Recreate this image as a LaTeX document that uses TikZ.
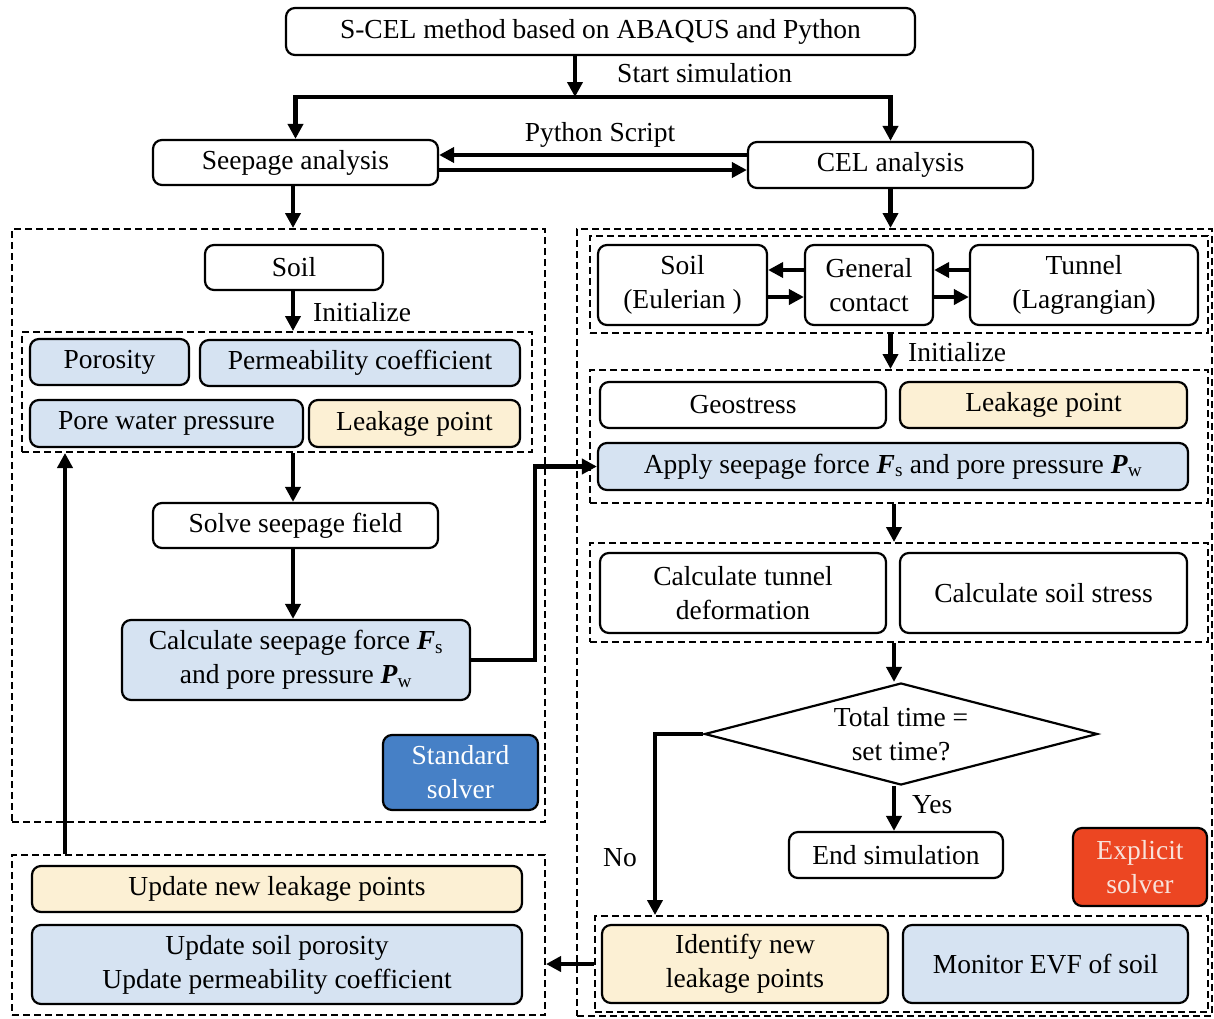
\documentclass[tikz,border=0pt]{standalone}
\usepackage{fontspec}
\setmainfont{Liberation Serif}
\usetikzlibrary{arrows.meta,shapes.geometric,calc}
\definecolor{lblue}{HTML}{D6E3F2}
\definecolor{lyel}{HTML}{FCF0D4}
\definecolor{stdblue}{HTML}{4680C6}
\definecolor{expred}{HTML}{EC4622}
\definecolor{exptext}{HTML}{F8E2DA}
\newcommand{\fs}{\fontsize{27.5}{34}\selectfont}
\newcommand{\bvar}[2]{\textbf{\textit{#1}}\textsubscript{#2}}
\begin{document}
\begin{tikzpicture}[x=1pt,y=-1pt,
  bx/.style={draw, rounded corners=9pt, line width=2.2pt, align=center, inner sep=0pt, font=\fs, fill=white},
  blu/.style={bx, fill=lblue},
  ylw/.style={bx, fill=lyel},
  dbox/.style={draw, dash pattern=on 7pt off 4pt, line width=2pt, inner sep=0pt},
  arr/.style={line width=4.5pt, -{Triangle[length=15pt,width=15pt]}},
  lbl/.style={font=\fs, inner sep=0pt}]
\useasboundingbox (0,0) rectangle (1214,1018);

% dashed frames
\node[dbox, minimum width=533pt, minimum height=593pt] (L) at (278.5,525.5) {};
\node[dbox, minimum width=510pt, minimum height=120pt] (LI) at (277,392) {};
\node[dbox, minimum width=533pt, minimum height=160pt] (BL) at (278.5,935) {};
\node[dbox, minimum width=635pt, minimum height=787pt] (R) at (894.5,622.5) {};
\node[dbox, minimum width=618pt, minimum height=97pt] (R1) at (899,284.5) {};
\node[dbox, minimum width=618pt, minimum height=133pt] (R2) at (899,436.5) {};
\node[dbox, minimum width=618pt, minimum height=99pt] (R3) at (899,592.5) {};
\node[dbox, minimum width=613pt, minimum height=96pt] (R4) at (901.5,964) {};

% top
\node[bx, minimum width=629pt, minimum height=47pt] (top) at (600.5,31.5) {S-CEL method based on ABAQUS and Python};
\node[bx, minimum width=285pt, minimum height=45pt] (seep) at (295.5,162.5) {Seepage analysis};
\node[bx, minimum width=285pt, minimum height=46pt] (cel) at (890.5,165) {CEL analysis};
\coordinate (split) at (575,97);
\node[lbl, anchor=west] (startlbl) at (617,73) {Start simulation};
\node[lbl] (pylbl) at (600,135) {Python Script};

% left column
\node[bx, minimum width=178pt, minimum height=45pt] (soil) at (294,267.5) {Soil};
\node[lbl, anchor=west] (initL) at (313,312) {Initialize};
\node[blu, minimum width=159pt, minimum height=46pt] (por) at (109.5,362) {Porosity};
\node[blu, minimum width=320pt, minimum height=46pt] (perm) at (360,363) {Permeability coefficient};
\node[blu, minimum width=273pt, minimum height=47pt] (pwp) at (166.5,423.5) {Pore water pressure};
\node[ylw, minimum width=211pt, minimum height=47pt] (leakL) at (414.5,423.5) {Leakage point};
\node[bx, minimum width=285pt, minimum height=45pt] (solve) at (295.5,525.5) {Solve seepage field};
\node[blu, minimum width=348pt, minimum height=80pt] (calc) at (296,660) {Calculate seepage force \bvar{F}{s}\\and pore pressure \bvar{P}{w}};
\node[bx, fill=stdblue, text=white, minimum width=155pt, minimum height=75pt] (std) at (460.5,772.5) {Standard\\solver};

% bottom left
\node[ylw, minimum width=490pt, minimum height=46pt] (updleak) at (277,889) {Update new leakage points};
\node[blu, minimum width=490pt, minimum height=79pt] (updsoil) at (277,964.5) {Update soil porosity\\Update permeability coefficient};

% right column
\node[bx, minimum width=169pt, minimum height=80pt] (soilE) at (682.5,285) {Soil\\(Eulerian )};
\node[bx, minimum width=128pt, minimum height=80pt] (gc) at (869,285) {General\\contact};
\node[bx, minimum width=228pt, minimum height=80pt] (tun) at (1084,285) {Tunnel\\(Lagrangian)};
\node[lbl, anchor=west] (initR) at (908,352) {Initialize};
\node[bx, minimum width=286pt, minimum height=46pt] (geo) at (743,405) {Geostress};
\node[ylw, minimum width=287pt, minimum height=46pt] (leakR) at (1043.5,405) {Leakage point};
\node[blu, minimum width=590pt, minimum height=47pt] (apply) at (893,466.5) {Apply seepage force \bvar{F}{s} and pore pressure \bvar{P}{w}};
\node[bx, minimum width=286pt, minimum height=80pt] (calct) at (743,593) {Calculate tunnel\\deformation};
\node[bx, minimum width=287pt, minimum height=80pt] (calcs) at (1043.5,593) {Calculate soil stress};
\node[draw, diamond, aspect=3.8, line width=2.2pt, inner sep=0pt, minimum width=393pt, minimum height=102pt, align=center, font=\fs] (dec) at (901,734) {Total time =\\set time?};
\node[lbl, anchor=west] (yes) at (912,805) {Yes};
\node[bx, minimum width=214pt, minimum height=46pt] (endsim) at (896,855) {End simulation};
\node[bx, fill=expred, text=exptext, minimum width=134pt, minimum height=78pt] (exp) at (1140,867) {Explicit\\solver};
\node[lbl] (no) at (620,858) {No};
\node[ylw, minimum width=286pt, minimum height=78pt] (ident) at (745,964) {Identify new\\leakage points};
\node[blu, minimum width=285pt, minimum height=78pt] (mon) at (1045.5,964) {Monitor EVF of soil};

% connectors
\draw[arr] (top.south -| split) -- (split);
\draw[arr] (split) -| (seep.north);
\draw[arr] (split) -| (cel.north);
\draw[arr] ([yshift=10pt]cel.west) -- ([yshift=10pt]cel.west -| seep.east);
\draw[arr] ([yshift=-7.5pt]seep.east) -- ([yshift=-7.5pt]seep.east -| cel.west);
\coordinate (midL) at (293,0);
\draw[arr] (midL |- seep.south) -- (midL |- L.north);
\draw[arr] (cel.south) -- (cel.south |- R.north);
\draw[arr] (midL |- soil.south) -- (midL |- LI.north);
\draw[arr] (midL |- LI.south) -- (midL |- solve.north);
\draw[arr] (midL |- solve.south) -- (midL |- calc.north);
\coordinate (jog) at (535,0);
\draw[arr, line join=miter] (calc.east) -| (jog |- apply.west) -- (apply.west);
\coordinate (loopx) at (65,0);
\draw[arr] (loopx |- BL.north) -- (loopx |- LI.south);
\draw[arr] ([yshift=15pt]gc.west) -- ([yshift=15pt]soilE.east);
\draw[arr] ([yshift=-12pt]soilE.east) -- ([yshift=-12pt]gc.west);
\draw[arr] ([yshift=15pt]tun.west) -- ([yshift=15pt]gc.east);
\draw[arr] ([yshift=-12pt]gc.east) -- ([yshift=-12pt]tun.west);
\draw[arr] (R1.south -| cel.south) -- (cel.south |- R2.north);
\coordinate (midR) at (894,0);
\draw[arr] (midR |- R2.south) -- (midR |- R3.north);
\draw[arr] (midR |- R3.south) -- (midR |- dec.north);
\draw[arr] (midR |- dec.south) -- (midR |- endsim.north);
\coordinate (nox) at (655,0);
\draw[arr, line join=miter] (dec.west) -| (nox |- R4.north);
\draw[arr] (R4.west) -- (R4.west -| BL.east);
\end{tikzpicture}
\end{document}
